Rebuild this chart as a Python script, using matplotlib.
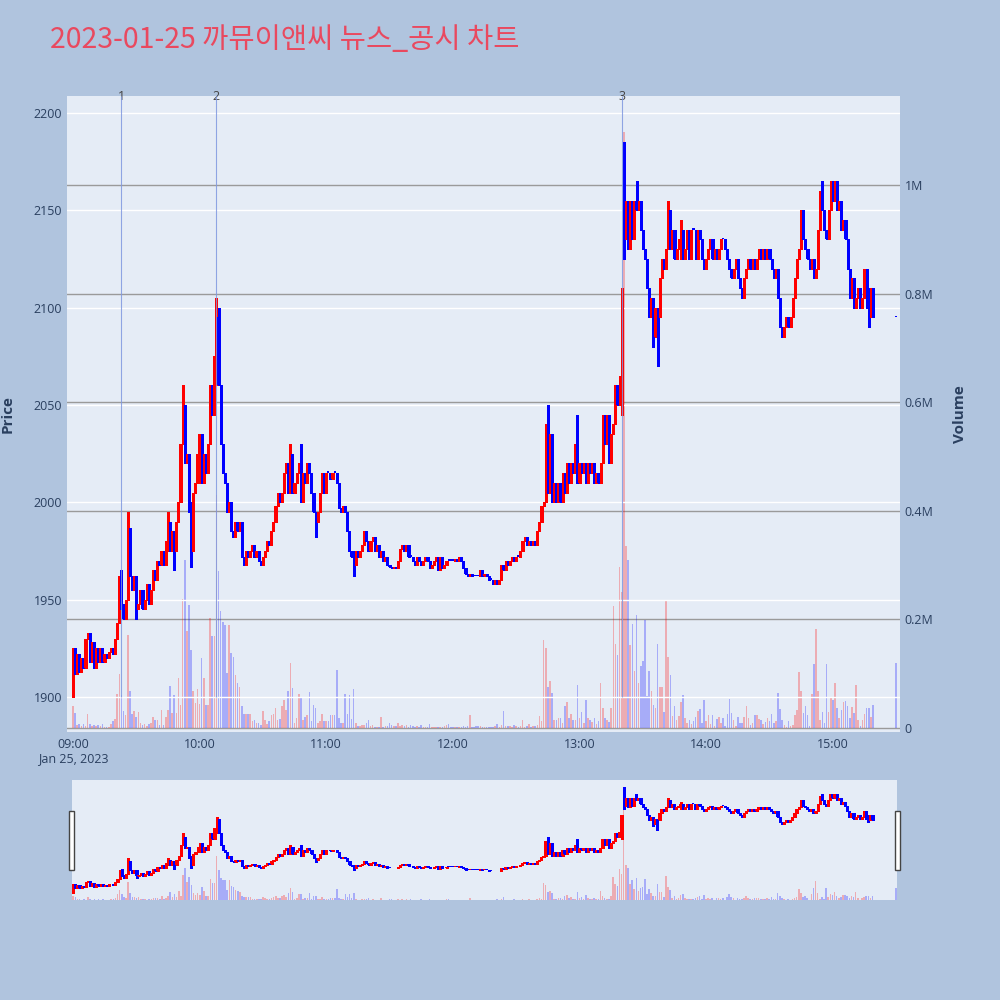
import numpy as np
import matplotlib
matplotlib.use('Agg')
import matplotlib.pyplot as plt
from matplotlib.patches import Rectangle
from matplotlib.transforms import blended_transform_factory

# minutes after 09:00, one candle per minute, plus the 15:30 closing auction
minutes = list(range(380)) + [390]

closes = [
    1925, 1912, 1922, 1913, 1920, 1915, 1930, 1933, 1918, 1928,
    1915, 1925, 1918, 1925, 1918, 1922, 1920, 1923, 1925, 1922,
    1930, 1938, 1960, 1948, 1940, 1950, 1987, 1962, 1955, 1962,
    1945, 1948, 1955, 1945, 1950, 1958, 1948, 1955, 1965, 1960,
    1970, 1968, 1975, 1968, 1980, 1990, 1975, 1985, 1975, 1990,
    2000, 2030, 2050, 2020, 2025, 2000, 1975, 2005, 2010, 2025,
    2035, 2010, 2025, 2015, 2030, 2060, 2045, 2075, 2095, 2060,
    2030, 2015, 2010, 1995, 2000, 1985, 1982, 1990, 1985, 1990,
    1972, 1968, 1975, 1972, 1975, 1978, 1972, 1975, 1970, 1968,
    1972, 1975, 1980, 1978, 1985, 1990, 1998, 2005, 2000, 2005,
    2015, 2020, 2005, 2025, 2005, 2010, 2015, 2020, 2000, 2015,
    2010, 2020, 2015, 2005, 1995, 1990, 1995, 2005, 2015, 2005,
    2015, 2015, 2012, 2015, 2015, 2010, 1997, 1995, 1998, 1995,
    1985, 1975, 1972, 1968, 1975, 1972, 1975, 1978, 1985, 1980,
    1975, 1980, 1982, 1975, 1978, 1972, 1975, 1970, 1972, 1968,
    1967, 1966, 1967, 1966, 1970, 1976, 1978, 1975, 1978, 1972,
    1972, 1970, 1968, 1972, 1970, 1968, 1970, 1972, 1970, 1966,
    1968, 1970, 1972, 1965, 1972, 1966, 1968, 1970, 1970, 1970,
    1970, 1971, 1970, 1972, 1970, 1966, 1963, 1962, 1963, 1962,
    1962, 1962, 1962, 1965, 1962, 1963, 1962, 1960, 1960, 1958,
    1960, 1958, 1960, 1968, 1965, 1970, 1968, 1970, 1972, 1970,
    1972, 1972, 1975, 1980, 1982, 1978, 1980, 1978, 1980, 1978,
    1985, 1990, 1998, 2000, 2040, 2005, 2035, 2000, 2010, 2000,
    2010, 2000, 2015, 2005, 2020, 2010, 2020, 2015, 2030, 2010,
    2020, 2015, 2020, 2010, 2020, 2015, 2020, 2010, 2015, 2010,
    2020, 2045, 2030, 2045, 2020, 2035, 2040, 2060, 2050, 2065,
    2110, 2135, 2155, 2130, 2155, 2135, 2155, 2150, 2155, 2140,
    2130, 2125, 2110, 2095, 2105, 2085, 2100, 2095, 2115, 2125,
    2120, 2130, 2150, 2130, 2140, 2125, 2130, 2135, 2140, 2125,
    2130, 2140, 2125, 2140, 2140, 2125, 2140, 2135, 2125, 2120,
    2125, 2130, 2135, 2125, 2130, 2125, 2130, 2135, 2135, 2130,
    2125, 2120, 2115, 2120, 2125, 2115, 2110, 2105, 2115, 2120,
    2125, 2120, 2125, 2120, 2125, 2130, 2125, 2130, 2125, 2130,
    2125, 2120, 2115, 2120, 2105, 2090, 2085, 2090, 2095, 2090,
    2095, 2105, 2115, 2125, 2130, 2150, 2135, 2130, 2125, 2120,
    2125, 2115, 2120, 2140, 2160, 2150, 2140, 2135, 2150, 2165,
    2155, 2165, 2150, 2155, 2140, 2145, 2135, 2120, 2105, 2115,
    2100, 2105, 2110, 2100, 2105, 2120, 2100, 2095, 2110, 2095,
    2095,
]

# candles whose open is not the previous close
open_fix_min = [0, 261, 390]
open_fix_val = [1900, 2165, 2095]

# wicks that reach beyond the body
wick_min = [0, 22, 23, 26, 30, 45, 48, 52, 55, 56, 60, 68, 69, 103, 108, 115,
            133, 199, 225, 239, 260, 261, 267, 275, 277, 282, 288, 345, 355, 377]
wick_high = [1925, 1962, 1965, 1995, 1948, 1995, 1985, 2060, 2025, 2000, 2035, 2105, 2100, 2030, 2030, 1995,
             1975, 1960, 2050, 2045, 2110, 2185, 2165, 2105, 2095, 2155, 2145, 2150, 2165, 2110]
wick_low = [1900, 1938, 1945, 1950, 1940, 1975, 1965, 2030, 1995, 1967, 2010, 2060, 2060, 2005, 2000, 1982,
            1962, 1958, 2005, 2010, 2045, 2125, 2150, 2080, 2070, 2130, 2125, 2130, 2150, 2090]

# volume in thousands of shares
volumes_k = [
    41, 28, 6, 8, 3, 8, 3, 25, 8, 3,
    6, 4, 6, 3, 7, 2, 2, 2, 8, 12,
    17, 63, 100, 60, 31, 23, 172, 68, 26, 31,
    21, 29, 9, 6, 8, 3, 8, 9, 21, 15,
    15, 6, 34, 6, 21, 34, 77, 28, 60, 28,
    92, 43, 238, 310, 179, 227, 144, 68, 46, 71,
    45, 129, 92, 43, 43, 203, 169, 169, 430, 290,
    215, 195, 190, 101, 190, 138, 130, 98, 83, 75,
    41, 26, 26, 25, 26, 12, 14, 9, 10, 6,
    31, 15, 8, 12, 23, 25, 37, 15, 17, 40,
    52, 33, 68, 120, 74, 9, 18, 63, 55, 14,
    21, 23, 66, 12, 43, 37, 9, 12, 25, 12,
    12, 12, 23, 23, 23, 107, 18, 9, 9, 63,
    26, 61, 17, 72, 9, 4, 3, 6, 6, 9,
    15, 3, 6, 2, 2, 1, 21, 2, 4, 3,
    10, 6, 3, 4, 9, 4, 6, 4, 6, 2,
    6, 3, 2, 4, 2, 6, 2, 1, 2, 7,
    2, 1, 1, 1, 2, 2, 4, 6, 7, 2,
    1, 1, 1, 1, 1, 3, 2, 3, 23, 2,
    2, 3, 3, 4, 2, 1, 2, 1, 1, 2,
    3, 7, 2, 5, 32, 4, 3, 3, 2, 5,
    3, 2, 4, 14, 2, 3, 7, 2, 3, 3,
    5, 22, 12, 162, 148, 76, 87, 65, 14, 14,
    18, 18, 10, 40, 47, 18, 25, 14, 14, 79,
    18, 29, 10, 51, 18, 14, 11, 18, 8, 12,
    83, 36, 18, 14, 11, 36, 224, 155, 134, 296,
    250, 1097, 336, 310, 152, 191, 105, 209, 83, 115,
    123, 199, 58, 105, 69, 43, 36, 155, 76, 76,
    29, 235, 130, 97, 22, 40, 14, 22, 47, 61,
    18, 10, 14, 8, 12, 21, 31, 35, 10, 52,
    12, 23, 8, 23, 3, 17, 21, 10, 18, 4,
    25, 54, 28, 15, 4, 20, 9, 9, 20, 41,
    18, 6, 10, 23, 23, 17, 14, 8, 11, 18,
    12, 26, 10, 12, 64, 35, 15, 6, 2, 12,
    3, 6, 23, 33, 104, 69, 28, 40, 23, 4,
    63, 118, 182, 69, 14, 29, 10, 118, 29, 57,
    51, 82, 37, 18, 33, 47, 49, 40, 18, 39,
    28, 80, 15, 4, 15, 26, 37, 37, 21, 43,
    120,
]

news_min = [23, 68, 260]
news_labels = ['1', '2', '3']

tick_min = [0, 60, 120, 180, 240, 300, 360]
tick_labels = ['09:00\nJan 25, 2023', '10:00', '11:00', '12:00', '13:00', '14:00', '15:00']
price_ticks = [1900, 1950, 2000, 2050, 2100, 2150, 2200]
vol_ticks = [0, 200000, 400000, 600000, 800000, 1000000]
vol_tick_labels = ['0', '0.2M', '0.4M', '0.6M', '0.8M', '1M']

title = '2023-01-25 까뮤이앤씨 뉴스_공시 차트'

# ---- build OHLC ----
t = np.array(minutes, dtype=float)
c = np.array(closes, dtype=float)
o = np.concatenate([[c[0]], c[:-1]])
idx = {m: i for i, m in enumerate(minutes)}
for m, v in zip(open_fix_min, open_fix_val):
    o[idx[m]] = v
hi = np.maximum(o, c)
lo = np.minimum(o, c)
for m, h, l in zip(wick_min, wick_high, wick_low):
    i = idx[m]
    hi[i] = max(hi[i], h)
    lo[i] = min(lo[i], l)
up = c > o
vol = np.array(volumes_k, dtype=float) * 1000
prev_c = np.concatenate([[o[0]], c[:-1]])
vol_up = c > prev_c

RED = '#ff0000'
BLUE = '#0000ff'
PAPER = '#b0c4de'
PLOT_BG = '#e5ecf6'
TXT = '#2a3f5f'

plt.rcParams['font.family'] = ['Open Sans', 'DejaVu Sans']

candle_cols = np.where(up, RED, BLUE)
vol_cols = np.where(vol_up, RED, BLUE)


def draw_candles(ax, body_w, wick_lw, min_h):
    body_lo = np.minimum(o, c)
    body_h = np.maximum(np.abs(c - o), min_h)
    ax.vlines(t, lo, hi, colors=candle_cols, lw=wick_lw, zorder=3, antialiased=False)
    ax.bar(t, body_h, bottom=body_lo, width=body_w, color=candle_cols, lw=0, zorder=3,
           antialiased=False)


def draw_volume(ax, width):
    ax.bar(t, vol, width=width, color=vol_cols, alpha=0.27, lw=0, zorder=2)


fig = plt.figure(figsize=(10, 10), dpi=100, facecolor=PAPER)

# ---- main chart ----
ax_vol = fig.add_axes([0.067, 0.268, 0.833, 0.636])
ax_vol.set_facecolor(PLOT_BG)
ax_price = ax_vol.twinx()

xlim = (-2.8, 391.8)
ylim = (1882, 2208.7)
vlim = (-7400, 1164000)

draw_volume(ax_vol, 0.75)
ax_vol.set_xlim(*xlim)
ax_vol.set_ylim(*vlim)
ax_vol.yaxis.tick_right()
ax_vol.yaxis.set_label_position('right')
ax_vol.set_yticks(vol_ticks)
ax_vol.set_yticklabels(vol_tick_labels)
ax_vol.grid(axis='y', color='#9a9a9a', lw=1)
ax_vol.set_axisbelow(True)
ax_vol.set_ylabel('Volume', color=TXT, fontsize=11, fontweight='bold', labelpad=14)

draw_candles(ax_price, 1.05, 1.0, 0.9)
ax_price.set_xlim(*xlim)
ax_price.set_ylim(*ylim)
ax_price.yaxis.tick_left()
ax_price.yaxis.set_label_position('left')
ax_price.set_yticks(price_ticks)
ax_price.grid(axis='y', color='white', lw=1)
ax_price.set_axisbelow(True)
ax_price.set_ylabel('Price', color=TXT, fontsize=11, fontweight='bold', labelpad=14)

for a in (ax_vol, ax_price):
    for s in a.spines.values():
        s.set_visible(False)
    a.tick_params(length=0, colors=TXT, labelsize=9)

ax_vol.set_xticks(tick_min)
ax_vol.set_xticklabels(tick_labels)
ax_vol.tick_params(axis='x', pad=4)
for lab in ax_vol.get_xticklabels():
    lab.set_linespacing(1.2)

trans = blended_transform_factory(ax_price.transData, ax_price.transAxes)
for m, lab in zip(news_min, news_labels):
    ax_price.vlines(m, 1900, ylim[1], color='#7f98e0', lw=0.8, alpha=0.85, zorder=4)
    ax_price.text(m, 1.0, lab, transform=trans, ha='center', va='center',
                  color='#444444', fontsize=9)

fig.text(0.05, 0.96, title, color='#e9495f', fontsize=20.5, ha='left', va='center',
         family=['Noto Sans CJK KR', 'DejaVu Sans'])

# ---- range slider ----
sl_vol = fig.add_axes([0.072, 0.1, 0.825, 0.12])
sl_vol.set_facecolor(PLOT_BG)
sl_price = sl_vol.twinx()
slx = (-0.6, 390.6)
draw_volume(sl_vol, 0.75)
sl_vol.set_xlim(*slx)
sl_vol.set_ylim(0, 1164000)
draw_candles(sl_price, 1.1, 1.0, 1.8)
sl_price.set_xlim(*slx)
sl_price.set_ylim(1881, 2204)
for a in (sl_vol, sl_price):
    a.set_xticks([])
    a.set_yticks([])
    for s in a.spines.values():
        s.set_visible(False)

for x0 in (0.069, 0.895):
    fig.patches.append(Rectangle((x0, 0.130), 0.005, 0.059, transform=fig.transFigure,
                                 facecolor='white', edgecolor='#444444', lw=1))

fig.savefig('out.png', dpi=100, facecolor=PAPER)
